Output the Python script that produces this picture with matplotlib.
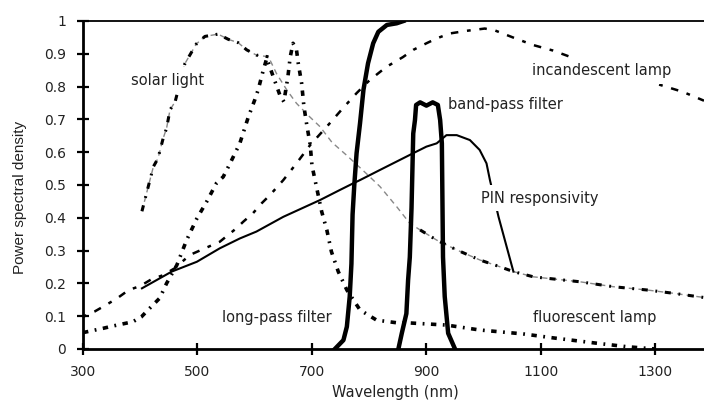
import matplotlib
matplotlib.use("Agg")
import matplotlib.pyplot as plt

# ---- data (wavelength nm, power spectral density) ----
solar_x = [403, 408, 414, 423, 431, 440, 446, 452, 461, 478, 498, 513, 536, 554, 571, 586, 603, 624,
           638, 656, 673, 696, 714, 735, 761, 795, 819, 848, 871, 889, 918, 953, 994, 1028, 1052, 1087,
           1168, 1226, 1285, 1331, 1385]
solar_y = [0.42, 0.454, 0.495, 0.556, 0.581, 0.642, 0.673, 0.729, 0.754, 0.87, 0.93, 0.953, 0.96, 0.944,
           0.934, 0.912, 0.896, 0.891, 0.84, 0.79, 0.749, 0.708, 0.678, 0.63, 0.59, 0.535, 0.495, 0.434,
           0.383, 0.363, 0.332, 0.302, 0.271, 0.251, 0.236, 0.22, 0.205, 0.19, 0.18, 0.17, 0.157]

incand_x = [300, 320, 340, 360, 380, 400, 420, 440, 460, 487, 539, 568, 580, 597, 612, 627, 650, 673,
            697, 726, 754, 778, 801, 830, 859, 877, 900, 918, 941, 970, 1002, 1020, 1051, 1086, 1121,
            1168, 1348, 1385]
incand_y = [0.098, 0.114, 0.134, 0.155, 0.18, 0.192, 0.213, 0.225, 0.246, 0.287, 0.327, 0.368, 0.388,
            0.414, 0.444, 0.47, 0.515, 0.566, 0.622, 0.678, 0.734, 0.78, 0.82, 0.86, 0.89, 0.912, 0.932,
            0.947, 0.962, 0.97, 0.977, 0.971, 0.95, 0.927, 0.91, 0.88, 0.784, 0.757]

fluor_x = [300, 335, 352, 387, 402, 417, 434, 446, 464, 481, 499, 516, 533, 545, 557, 574, 589, 600,
           606, 615, 621, 644, 651, 658, 662, 667, 673, 676, 682, 686, 691, 697, 700, 717, 726, 734,
           746, 761, 784, 813, 848, 865, 935, 993, 1069, 1121, 1191, 1250, 1300]
fluor_y = [0.05, 0.063, 0.07, 0.083, 0.098, 0.125, 0.155, 0.2, 0.256, 0.332, 0.398, 0.449, 0.505,
           0.525, 0.566, 0.627, 0.708, 0.759, 0.79, 0.85, 0.886, 0.774, 0.754, 0.83, 0.89, 0.932, 0.912,
           0.872, 0.81, 0.739, 0.683, 0.622, 0.56, 0.419, 0.363, 0.297, 0.236, 0.18, 0.119, 0.088,
           0.08, 0.08, 0.073, 0.058, 0.046, 0.034, 0.019, 0.007, 0.0]

pin_x = [403, 455, 499, 539, 574, 603, 650, 714, 749, 772, 784, 819, 877, 900, 918, 935, 953, 976,
         993, 1005, 1011, 1026, 1052]
pin_y = [0.185, 0.236, 0.266, 0.307, 0.337, 0.358, 0.403, 0.454, 0.485, 0.505, 0.515, 0.546, 0.597,
         0.617, 0.627, 0.652, 0.652, 0.637, 0.607, 0.566, 0.515, 0.403, 0.236]

longpass_x = [740, 755, 761, 766, 769, 771, 774, 778, 784, 790, 798, 807, 816, 831, 848, 860]
longpass_y = [0.0, 0.027, 0.068, 0.16, 0.26, 0.41, 0.5, 0.597, 0.688, 0.79, 0.871, 0.932, 0.967,
              0.988, 0.993, 1.0]

bandpass_x = [851, 857, 865, 868, 871, 874, 877, 880, 882, 889, 900, 911, 920, 924, 927, 928, 929,
              932, 938, 950]
bandpass_y = [0.0, 0.048, 0.108, 0.21, 0.28, 0.43, 0.657, 0.698, 0.744, 0.752, 0.742, 0.752, 0.744,
              0.698, 0.627, 0.454, 0.28, 0.16, 0.048, 0.0]

x_ticks = [300, 500, 700, 900, 1100, 1300]
y_ticks = [0, 0.1, 0.2, 0.3, 0.4, 0.5, 0.6, 0.7, 0.8, 0.9, 1]
y_tick_labels = ["0", "0.1", "0.2", "0.3", "0.4", "0.5", "0.6", "0.7", "0.8", "0.9", "1"]

labels = ["solar light", "incandescent lamp", "band-pass filter", "PIN responsivity",
          "long-pass filter", "fluorescent lamp"]
label_x = [384, 1084, 937, 996, 542, 1087]
label_y = [0.82, 0.848, 0.746, 0.459, 0.095, 0.095]

# ---- figure ----
fig = plt.figure(figsize=(7.04, 4.01), dpi=100)
ax = fig.add_axes([83 / 704, 1 - 349 / 401, 1 - 83 / 704, (349 - 21) / 401])
ax.set_xlim(300, 1385)
ax.set_ylim(0, 1)

# solar light: bold dash-dot, thin grey middle part
ax.plot(solar_x, solar_y, color="#888888", lw=1.0, ls=(0, (4, 3)), zorder=2)
i1 = solar_x.index(624)
i2 = solar_x.index(889)
ax.plot(solar_x[:i1 + 1], solar_y[:i1 + 1], color="black", lw=2.2, ls=(0, (2, 2.5, 0.6, 2.5)), zorder=3)
ax.plot(solar_x[i2:], solar_y[i2:], color="black", lw=2.2, ls=(0, (2, 2.5, 0.6, 2.5)), zorder=3)

# incandescent lamp: dotted
ax.plot(incand_x, incand_y, color="black", lw=1.8, ls=(0, (1.5, 3.5, 3, 3.5)), zorder=3)

# fluorescent lamp: bold dashed
ax.plot(fluor_x, fluor_y, color="black", lw=2.6, ls=(0, (1.5, 1.8, 0.5, 1.8)), zorder=3)

# PIN responsivity: solid
ax.plot(pin_x, pin_y, color="black", lw=1.5, zorder=3)

# filters: thick solid
ax.plot(longpass_x, longpass_y, color="black", lw=3.2, zorder=4, solid_joinstyle="round")
ax.plot(bandpass_x, bandpass_y, color="black", lw=3.2, zorder=4, solid_joinstyle="round")

for t, lx, ly in zip(labels, label_x, label_y):
    ax.text(lx, ly, t, ha="left", va="center", fontsize=10.5, family="DejaVu Sans",
            color="#222222", zorder=6,
            bbox=dict(facecolor="white", edgecolor="none", pad=4))

ax.set_xticks(x_ticks)
ax.set_yticks(y_ticks)
ax.set_yticklabels(y_tick_labels)
ax.tick_params(axis="both", direction="inout", length=8.5, width=1.6, labelsize=10,
               colors="black", labelcolor="#222222")
ax.tick_params(axis="x", pad=7.5)
ax.tick_params(axis="y", pad=8)

for s in ["left", "bottom"]:
    ax.spines[s].set_linewidth(2)
ax.spines["top"].set_linewidth(1.3)
ax.spines["right"].set_visible(False)

fig.text(20 / 704, 1 - 197.5 / 401, "Power spectral density", rotation=90, ha="center",
         va="center", fontsize=11, family="Liberation Sans", color="#222222")
fig.text(395.5 / 704, 1 - 393 / 401, "Wavelength (nm)", ha="center", va="center",
         fontsize=10.5, family="DejaVu Sans", color="#222222")

fig.savefig("out.png", dpi=100)
